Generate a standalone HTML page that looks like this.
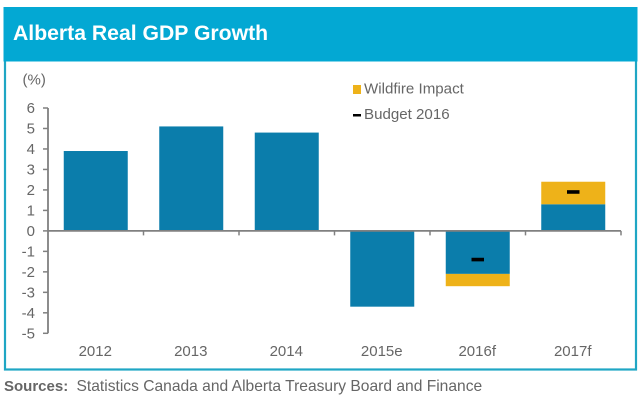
<!DOCTYPE html>
<html>
<head>
<meta charset="utf-8">
<title>Alberta Real GDP Growth</title>
<style>
html,body{margin:0;padding:0;background:#fff;width:640px;height:400px;overflow:hidden}
svg{display:block}
text{font-family:"Liberation Sans",Arial,sans-serif;fill:#666}
</style>
</head>
<body>
<svg id="chart" xmlns="http://www.w3.org/2000/svg" width="640" height="400" viewBox="0 0 640 400">
  <rect x="5" y="60" width="631" height="309.5" fill="#fff" stroke="#1fa6c4" stroke-width="2.2"/>
  <rect x="3.5" y="7" width="634" height="54.5" fill="#03a8d3"/>
  <text x="13" y="40" font-size="21.2" font-weight="700" style="fill:#fff">Alberta Real GDP Growth</text>
  <text x="22.5" y="84.5" font-size="15">(%)</text>
  <g id="marks"></g>
  <g id="axes"></g>
  <rect x="353" y="85" width="8" height="9" fill="#eeb219"/>
  <text x="364" y="93.5" font-size="15.1">Wildfire Impact</text>
  <rect x="353" y="114" width="8" height="2.5" fill="#000"/>
  <text x="364" y="119" font-size="15.1">Budget 2016</text>
  <text y="391"><tspan x="4" font-size="15" font-weight="700">Sources:</tspan><tspan x="76.5" font-size="15.6">Statistics Canada and Alberta Treasury Board and Finance</tspan></text>
</svg>
<script>
const categories = ['2012', '2013', '2014', '2015e', '2016f', '2017f'];
const gdpGrowth = [3.9, 5.1, 4.8, -3.7, -2.1, 1.3];
const wildfireImpact = [0, 0, 0, 0, -0.6, 1.1];
const budget2016 = [null, null, null, null, -1.4, 1.9];
const yTicks = [6, 5, 4, 3, 2, 1, 0, -1, -2, -3, -4, -5];

const NS = 'http://www.w3.org/2000/svg';
const plotLeft = 48, plotRight = 621, plotTop = 108, plotBottom = 333.3;
const yMax = 6, yMin = -5;
const barWidth = 64, budgetWidth = 12.5, budgetHeight = 3.6;
const bandWidth = (plotRight - plotLeft) / categories.length;
const xScale = i => plotLeft + bandWidth * (i + 0.5);
const yScale = v => plotTop + (yMax - v) / (yMax - yMin) * (plotBottom - plotTop);
const marks = document.getElementById('marks');
const axes = document.getElementById('axes');

function make(tag, attrs, parent) {
  const el = document.createElementNS(NS, tag);
  Object.keys(attrs).forEach(k => el.setAttribute(k, attrs[k]));
  parent.appendChild(el);
  return el;
}
function spanRect(i, from, to, fill, parent) {
  const a = yScale(from), b = yScale(to);
  return make('rect', {x: xScale(i) - barWidth / 2, y: Math.min(a, b), width: barWidth, height: Math.abs(b - a), fill: fill}, parent);
}

categories.forEach((c, i) => {
  const bar = spanRect(i, 0, gdpGrowth[i], '#0b7dab', marks);
  
  
  if (wildfireImpact[i] !== 0) {
    const w = spanRect(i, gdpGrowth[i], gdpGrowth[i] + wildfireImpact[i], '#eeb219', marks);
    
    
  }
  if (budget2016[i] !== null) {
    const b = make('rect', {x: xScale(i) - budgetWidth / 2, y: yScale(budget2016[i]) - budgetHeight / 2, width: budgetWidth, height: budgetHeight, fill: '#000'}, marks);
    
    
  }
  const label = make('text', {x: xScale(i) - 0.5, y: 356, 'font-size': 15, 'text-anchor': 'middle'}, axes);
  label.textContent = c;
  
  
  const tx = plotLeft + bandWidth * (i + 1);
  const t = make('line', {x1: tx, x2: tx, y1: yScale(0), y2: yScale(0) + 4.5, stroke: '#808080', 'stroke-width': 1.5}, axes);
  
  
});

yTicks.forEach(v => {
  const y = yScale(v);
  const t = make('line', {x1: plotLeft - 5, x2: plotLeft, y1: y, y2: y, stroke: '#808080', 'stroke-width': 1.5}, axes);
  
  
  const label = make('text', {x: 35, y: y + 5, 'font-size': 15, 'text-anchor': 'end'}, axes);
  label.textContent = v;
  
  
});

const yAxis = make('line', {x1: plotLeft, x2: plotLeft, y1: plotTop, y2: plotBottom, stroke: '#808080', 'stroke-width': 1.8}, axes);


const xAxis = make('line', {x1: plotLeft, x2: plotRight, y1: yScale(0), y2: yScale(0), stroke: '#808080', 'stroke-width': 1.8}, axes);


</script>
</body>
</html>
